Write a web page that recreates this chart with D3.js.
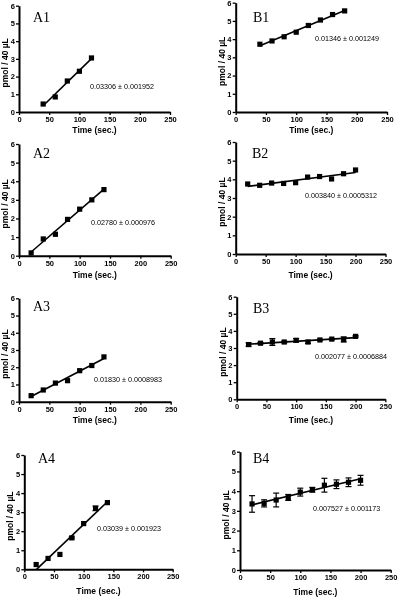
<!DOCTYPE html>
<html><head><meta charset="utf-8">
<script src="https://cdn.jsdelivr.net/npm/d3@7"></script>
<style>
html,body{margin:0;padding:0;background:#fff;}
svg{display:block;filter:grayscale(100%);}
</style></head>
<body>
<svg id="c" width="400" height="598"></svg>
<script>
// ---- data ----
const xTicks = [0, 50, 100, 150, 200, 250];
const yTicks = [0, 1, 2, 3, 4, 5, 6];
const panelNames = ["A1", "B1", "A2", "B2", "A3", "B3", "A4", "B4"];
const slopeTexts = ["0.03306 \u00b1 0.001952", "0.01346 \u00b1 0.001249", "0.02780 \u00b1 0.000976", "0.003840 \u00b1 0.0005312",
  "0.01830 \u00b1 0.0008983", "0.002077 \u00b1 0.0006884", "0.03039 \u00b1 0.001923", "0.007527 \u00b1 0.001173"];

const a1Time = [40, 60, 80, 100, 120];
const a1Vals = [0.45, 0.85, 1.75, 2.3, 3.05];
const b1Time = [40, 60, 80, 100, 120, 140, 160, 180];
const b1Vals = [3.72, 3.9, 4.13, 4.38, 4.75, 5.05, 5.35, 5.55];
const a2Time = [20, 40, 60, 80, 100, 120, 140];
const a2Vals = [0.15, 0.9, 1.15, 1.95, 2.5, 3.0, 3.55];
const b2Time = [20, 40, 60, 80, 100, 120, 140, 160, 180, 200];
const b2Vals = [3.75, 3.68, 3.8, 3.78, 3.82, 4.12, 4.15, 4.02, 4.3, 4.5];
const a3Time = [20, 40, 60, 80, 100, 120, 140];
const a3Vals = [0.35, 0.68, 1.08, 1.22, 1.8, 2.1, 2.6];
const b3Time = [20, 40, 60, 80, 100, 120, 140, 160, 180, 200];
const b3Vals = [3.2, 3.28, 3.35, 3.35, 3.45, 3.35, 3.47, 3.52, 3.5, 3.68];
const b3Err  = [0.1, 0.04, 0.2, 0.05, 0.1, 0.08, 0.04, 0.04, 0.15, 0.04];
const a4Time = [20, 40, 60, 80, 100, 120, 140];
const a4Vals = [0.25, 0.57, 0.78, 1.65, 2.4, 3.2, 3.5];
const a4Err  = [0, 0, 0, 0.05, 0, 0.12, 0];
const b4Time = [20, 40, 60, 80, 100, 120, 140, 160, 180, 200];
const b4Vals = [3.35, 3.38, 3.55, 3.68, 3.95, 4.07, 4.3, 4.35, 4.45, 4.55];
const b4Err  = [0.42, 0.18, 0.35, 0.15, 0.2, 0.12, 0.35, 0.22, 0.22, 0.25];

const series = [
  {t: a1Time, v: a1Vals, e: null},
  {t: b1Time, v: b1Vals, e: null},
  {t: a2Time, v: a2Vals, e: null},
  {t: b2Time, v: b2Vals, e: null},
  {t: a3Time, v: a3Vals, e: null},
  {t: b3Time, v: b3Vals, e: b3Err},
  {t: a4Time, v: a4Vals, e: a4Err},
  {t: b4Time, v: b4Vals, e: b4Err}
];

// ---- layout (pixels) ----
const frames = [
  {xl: 19,    xr: 170,   yt: 5.7,   yb: 112,   lab: [33, 22],   ann: [90, 88.5],   tl: 133},
  {xl: 235.7, xr: 387,   yt: 2.7,   yb: 112,   lab: [253, 22],  ann: [315, 40.5],  tl: 133},
  {xl: 19,    xr: 170.7, yt: 144,   yb: 255.7, lab: [33, 158],  ann: [91, 225],    tl: 278},
  {xl: 235.7, xr: 385.5, yt: 142,   yb: 254,   lab: [252, 158], ann: [305, 197.5], tl: 278},
  {xl: 19,    xr: 170.7, yt: 298.3, yb: 401.7, lab: [33, 311],  ann: [94, 381.5],  tl: 423},
  {xl: 236.7, xr: 385.3, yt: 296.7, yb: 399.3, lab: [253, 313], ann: [315, 359],   tl: 423},
  {xl: 24.3,  xr: 172.7, yt: 455,   yb: 569.3, lab: [38, 463],  ann: [97, 531],    tl: 594},
  {xl: 240,   xr: 390.7, yt: 451.7, yb: 570,   lab: [253, 463], ann: [313, 510.5], tl: 595}
];

const svg = d3.select("#c");

function fit(t, v) {
  const n = t.length, mx = d3.mean(t), my = d3.mean(v);
  let sxy = 0, sxx = 0;
  for (let i = 0; i < n; i++) { sxy += (t[i]-mx)*(v[i]-my); sxx += (t[i]-mx)*(t[i]-mx); }
  const b = sxy / sxx;
  return {b, a: my - b*mx};
}

frames.forEach((f, i) => {
  const s = series[i];
  const x = d3.scaleLinear().domain([0, 250]).range([f.xl, f.xr]);
  const y = d3.scaleLinear().domain([0, 6]).range([f.yb, f.yt]);
  const g = svg.append("g");

  const xa = g.append("g").attr("transform", `translate(0,${f.yb})`)
    .call(d3.axisBottom(x).tickValues(xTicks).tickFormat(d3.format("d")).tickSize(3).tickSizeOuter(0).tickPadding(1.5));
  const ya = g.append("g").attr("transform", `translate(${f.xl},0)`)
    .call(d3.axisLeft(y).tickValues(yTicks).tickFormat(d3.format("d")).tickSize(3).tickSizeOuter(0).tickPadding(1.2));
  [xa, ya].forEach(a => {
    a.select(".domain").attr("stroke", "#000").attr("stroke-width", 2);
    a.selectAll(".tick line").attr("stroke", "#000").attr("stroke-width", 1.3);
    a.selectAll(".tick text").attr("font-family", "Liberation Sans, Arial, sans-serif")
      .attr("font-size", 7.5).attr("font-weight", "bold").attr("fill", "#000");
  });

  // axis titles
  g.append("text").attr("x", (f.xl + f.xr)/2).attr("y", f.tl)
    .attr("text-anchor", "middle").attr("font-family", "Liberation Sans, Arial, sans-serif")
    .attr("font-size", 8.5).attr("font-weight", "bold").attr("fill", "#000").text("Time (sec.)");
  const cy = (f.yt + f.yb)/2 + 4;
  g.append("text").attr("transform", `translate(${f.xl - 11},${cy}) rotate(-90)`)
    .attr("text-anchor", "middle").attr("font-family", "Liberation Sans, Arial, sans-serif")
    .attr("font-size", 8.5).attr("font-weight", "bold").attr("fill", "#000").text("pmol / 40 \u00b5L");

  // panel label
  g.append("text").attr("x", f.lab[0]).attr("y", f.lab[1])
    .attr("font-family", "Liberation Serif, Times New Roman, serif").attr("font-size", 14)
    .attr("fill", "#000").text(panelNames[i]);

  // slope annotation
  g.append("text").attr("x", f.ann[0]).attr("y", f.ann[1])
    .attr("font-family", "Liberation Sans, Arial, sans-serif").attr("font-size", 7.2)
    .attr("fill", "#000")
    .text(slopeTexts[i]);

  // fit line
  const {a, b} = fit(s.t, s.v);
  const t0 = d3.min(s.t), t1 = d3.max(s.t);
  let start = t0;
  if (a + b*t0 < 0) start = -a/b;
  g.append("line").attr("x1", x(start)).attr("y1", y(a + b*start))
    .attr("x2", x(t1)).attr("y2", y(a + b*t1))
    .attr("stroke", "#000").attr("stroke-width", 1.6);

  // error bars
  if (s.e) {
    s.t.forEach((tt, j) => {
      const e = s.e[j];
      if (!e) return;
      const px = x(tt);
      g.append("line").attr("x1", px).attr("x2", px).attr("y1", y(s.v[j]-e)).attr("y2", y(s.v[j]+e))
        .attr("stroke", "#000").attr("stroke-width", 1.2);
      [s.v[j]-e, s.v[j]+e].forEach(vv => {
        g.append("line").attr("x1", px-3).attr("x2", px+3).attr("y1", y(vv)).attr("y2", y(vv))
          .attr("stroke", "#000").attr("stroke-width", 1.2);
      });
    });
  }

  // markers
  g.selectAll("rect.pt").data(s.t.map((tt, j) => [tt, s.v[j]])).join("rect")
    .attr("class", "pt").attr("x", d => x(d[0]) - 2.6).attr("y", d => y(d[1]) - 2.6)
    .attr("width", 5.2).attr("height", 5.2).attr("fill", "#000");
});
</script>
</body></html>
